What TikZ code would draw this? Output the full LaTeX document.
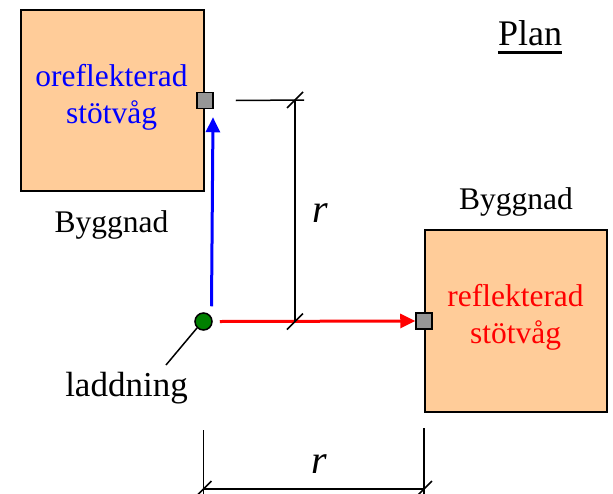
\documentclass[tikz,border=0pt]{standalone}
\usepackage{fontspec}
\setmainfont{Liberation Serif}
\usetikzlibrary{calc, arrows.meta}

\definecolor{husfarg}{RGB}{255,204,153}
\definecolor{givarfarg}{RGB}{150,150,150}
\definecolor{laddfarg}{RGB}{0,128,0}

\tikzset{
  hus/.style={draw, line width=2pt, fill=husfarg, minimum width=183pt, minimum height=181pt, inner sep=0pt},
  givare/.style={draw, line width=1.5pt, fill=givarfarg, minimum size=16pt, inner sep=0pt},
  laddpunkt/.style={circle, draw, line width=1.5pt, fill=laddfarg, minimum size=17pt, inner sep=0pt},
  hustext/.style={font=\fontsize{31.5}{37}\selectfont, inner sep=0pt, align=center},
  stortext/.style={font=\fontsize{35}{40}\selectfont, inner sep=0pt},
  rtext/.style={font=\fontsize{40}{44}\selectfont\itshape, inner sep=0pt},
  matt/.style={line width=1.5pt},
  pil/.style={line width=3pt, -{Triangle[length=15pt,width=14pt]}}
}

\newcommand{\strek}[1]{\draw[matt] ($(#1)+(-8,8)$) -- ($(#1)+(8,-8)$);}

\begin{document}
\begin{tikzpicture}[x=1pt, y=-1pt]
  \useasboundingbox (0,0) rectangle (613,493);

  % Byggnader
  \node[hus] (hus1) at (112.5,100.5) {};
  \node[hus, minimum width=182pt, minimum height=182pt] (hus2) at (516,321) {};
  \node[hustext, text=blue] (t1) at (111.5,97) {oreflekterad\\stötvåg};
  \node[hustext, text=red] (t2) at (515.5,317) {reflekterad\\stötvåg};
  \node[hustext, anchor=base] (b1) at (111.5,232) {Byggnad};
  \node[hustext, anchor=base] (b2) at (516,209) {Byggnad};

  % Givare och laddning
  \node[givare] (g1) at (hus1.east) {};
  \node[givare] (g2) at (hus2.west) {};
  \node[laddpunkt] (ladd) at (203.5,321.5) {};
  \node[stortext, anchor=base] (ltext) at (126.5,396) {laddning};
  \coordinate (lpil) at (166,365);
  \draw[matt] (ladd.south west) -- (lpil);

  % Stötvågor
  \draw[pil, blue] ($(ladd.north)+(8,-6)$) -- ($(g1.south)+(8,8)$);
  \draw[pil, red] ($(ladd.east)+(7,0)$) -- (g2.west);

  % Mått r, vertikalt
  \coordinate (d1) at (295,100);
  \coordinate (d2) at (d1 |- ladd);
  \draw[matt] ($(g1.east)+(22,0)$) -- ($(d1)+(9,0)$);
  \draw[matt] (d1) -- (d2);
  \strek{d1}
  \strek{d2}
  \node[rtext, anchor=base] (r1) at (320,222) {r};

  % Mått r, horisontellt
  \coordinate (e1) at (ladd |- 0,489);
  \coordinate (e2) at (hus2.west |- e1);
  \draw[matt] (ladd |- 0,430) -- ($(e1)+(0,6)$);
  \draw[matt] (hus2.west |- 0,428) -- ($(e2)+(0,6)$);
  \draw[matt] (e1) -- (e2);
  \strek{e1}
  \strek{e2}
  \node[rtext, anchor=base] (r2) at (319.5,473) {r};

  % Rubrik
  \node[stortext, font=\fontsize{36}{40}\selectfont, anchor=base] (plan) at (530,45) {Plan};
  \draw[line width=2.5pt] ($(plan.base west)+(0,7.5)$) -- ($(plan.base east)+(0,7.5)$);
\end{tikzpicture}
\end{document}
